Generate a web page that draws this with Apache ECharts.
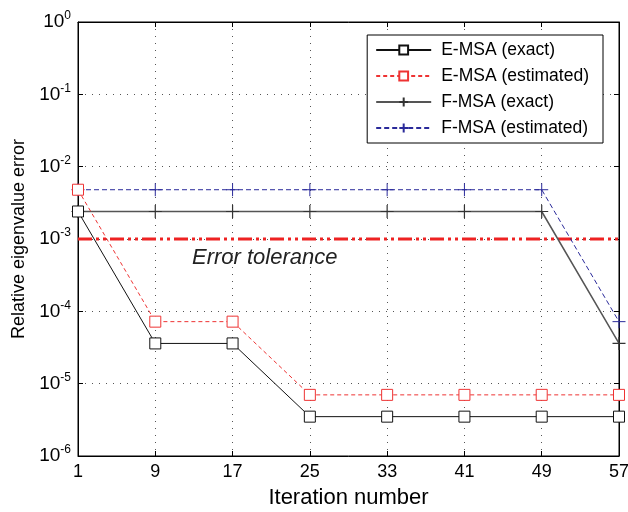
<!DOCTYPE html>
<html>
<head>
<meta charset="utf-8">
<script src="https://cdn.jsdelivr.net/npm/echarts@6/dist/echarts.min.js"></script>
<style>
  html, body { margin: 0; padding: 0; background: #fff; }
  #chart { width: 628px; height: 512px; }
</style>
</head>
<body>
<div id="chart"></div>
<script>
var iterations = ['1', '9', '17', '25', '33', '41', '49', '57'];
var emsaExact = [2.4e-3, 3.6e-5, 3.6e-5, 3.5e-6, 3.5e-6, 3.5e-6, 3.5e-6, 3.5e-6];
var emsaEst = [4.8e-3, 7.2e-5, 7.2e-5, 7e-6, 7e-6, 7e-6, 7e-6, 7e-6];
var fmsaExact = [2.4e-3, 2.4e-3, 2.4e-3, 2.4e-3, 2.4e-3, 2.4e-3, 2.4e-3, 3.6e-5];
var fmsaEst = [4.8e-3, 4.8e-3, 4.8e-3, 4.8e-3, 4.8e-3, 4.8e-3, 4.8e-3, 7.2e-5];
var tolerance = [1e-3, 1e-3, 1e-3, 1e-3, 1e-3, 1e-3, 1e-3, 1e-3];

var FONT = 'Liberation Sans, Arial, sans-serif';
var plus = 'path://M0,6L12,6M6,0L6,12';

var chartDom = document.getElementById('chart');
var box = echarts.init(chartDom);

function expLabel(v) {
  var e = Math.round(Math.log(v) / Math.LN10);
  return '{b|10}{s|' + e + '}';
}

var option = {
  animation: false,
  backgroundColor: '#fff',
  grid: {
    left: 78, right: 9, top: 22, bottom: 56,
    outerBoundsMode: 'none',
    show: true, borderColor: '#000', borderWidth: 1
  },
  legend: {
    orient: 'vertical',
    right: 25, top: 35,
    padding: [6, 14, 6, 8],
    itemGap: 8,
    itemWidth: 55,
    itemHeight: 11,
    backgroundColor: '#fff',
    borderColor: '#000',
    borderWidth: 1,
    textStyle: { fontFamily: FONT, fontSize: 17.5, color: '#000', padding: [0, 0, 0, 5] },
    data: ['E-MSA (exact)', 'E-MSA (estimated)', 'F-MSA (exact)', 'F-MSA (estimated)']
  },
  xAxis: [{
    type: 'category',
    data: iterations,
    boundaryGap: false,
    name: 'Iteration number',
    nameLocation: 'middle',
    nameGap: 31,
    nameTextStyle: { fontFamily: FONT, fontSize: 22, color: '#000' },
    axisLine: { lineStyle: { color: '#000' } },
    axisTick: { inside: true, length: 5, lineStyle: { color: '#000' } },
    axisLabel: { fontFamily: FONT, fontSize: 18, color: '#000', margin: 7 },
    splitLine: { show: true, lineStyle: { color: '#555', type: [1, 6] } }
  }, {
    type: 'category',
    data: iterations,
    boundaryGap: false,
    position: 'top',
    axisLine: { lineStyle: { color: '#000' } },
    axisTick: { inside: true, length: 5, lineStyle: { color: '#000' } },
    axisLabel: { show: false }
  }],
  yAxis: [{
    type: 'log',
    logBase: 10,
    min: 1e-6,
    max: 1,
    name: 'Relative eigenvalue error',
    nameLocation: 'middle',
    nameGap: 47,
    nameTextStyle: { fontFamily: FONT, fontSize: 18, color: '#000' },
    axisLine: { show: true, lineStyle: { color: '#000' } },
    axisTick: { show: true, inside: true, length: 5, lineStyle: { color: '#000' } },
    axisLabel: {
      formatter: expLabel,
      margin: 7,
      rich: {
        b: { fontFamily: FONT, fontSize: 19, color: '#000' },
        s: { fontFamily: FONT, fontSize: 12, color: '#000', verticalAlign: 'bottom', padding: [0, 0, 12, 0] }
      }
    },
    splitLine: { show: true, lineStyle: { color: '#555', type: [1, 6] } }
  }, {
    type: 'log',
    logBase: 10,
    min: 1e-6,
    max: 1,
    position: 'right',
    axisLine: { show: true, lineStyle: { color: '#000' } },
    axisTick: { show: true, inside: true, length: 5, lineStyle: { color: '#000' } },
    axisLabel: { show: false },
    splitLine: { show: false }
  }],
  graphic: [{
    type: 'text',
    left: 192, top: 247,
    style: {
      text: 'Error tolerance',
      font: 'italic 22px ' + FONT,
      fill: '#222'
    }
  }],
  series: [
    {
      name: 'tolerance',
      type: 'line',
      data: tolerance,
      symbol: 'none',
      z: 1,
      lineStyle: { color: '#ee2222', width: 3, type: [14, 4, 3, 4, 3, 4] }
    },
    {
      name: 'F-MSA (exact)',
      type: 'line',
      data: fmsaExact,
      symbol: plus,
      symbolSize: 13,
      showAllSymbol: true,
      clip: false,
      lineStyle: { color: '#555', width: 1.5 },
      itemStyle: { color: 'none', borderColor: '#333', borderWidth: 1.2 }
    },
    {
      name: 'F-MSA (estimated)',
      type: 'line',
      data: fmsaEst,
      symbol: plus,
      symbolSize: 13,
      showAllSymbol: true,
      clip: false,
      lineStyle: { color: '#2a2a9a', width: 1, type: [5, 3] },
      itemStyle: { color: 'none', borderColor: '#2a2a9a', borderWidth: 1 }
    },
    {
      name: 'E-MSA (exact)',
      type: 'line',
      data: emsaExact,
      symbol: 'rect',
      symbolSize: 11,
      showAllSymbol: true,
      clip: false,
      lineStyle: { color: '#111', width: 1 },
      itemStyle: { color: '#fff', borderColor: '#111', borderWidth: 1 }
    },
    {
      name: 'E-MSA (estimated)',
      type: 'line',
      data: emsaEst,
      symbol: 'rect',
      symbolSize: 11,
      showAllSymbol: true,
      clip: false,
      lineStyle: { color: '#ee3333', width: 1, type: [4, 3] },
      itemStyle: { color: '#fff', borderColor: '#ee3333', borderWidth: 1 }
    }
  ]
};

box.setOption(option);
</script>
</body>
</html>
